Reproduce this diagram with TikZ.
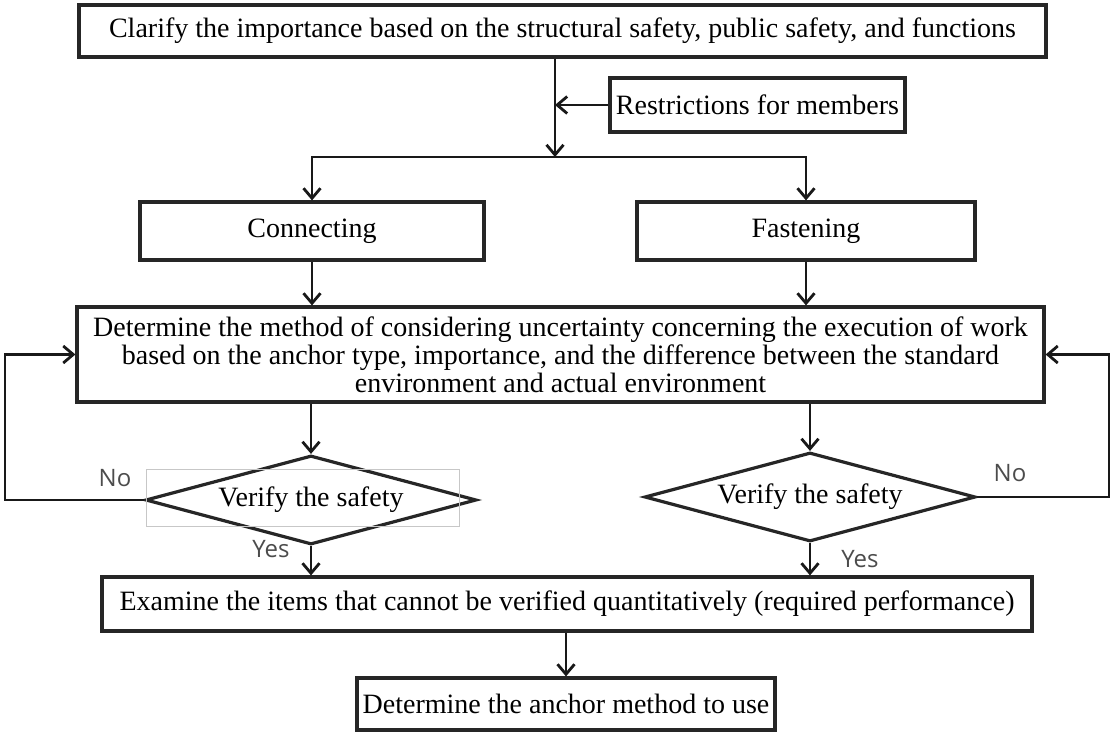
\documentclass[tikz,border=0pt]{standalone}
\usepackage{fontspec}
\setmainfont{Liberation Serif}
\newfontfamily\labelfont{Open Sans}
\usetikzlibrary{arrows.meta,shapes.geometric}
\begin{document}
\begin{tikzpicture}[x=1pt,y=-1pt,
  box/.style={draw=black!85, line width=3.2pt, fill=white, inner sep=0pt,
    font=\fontsize{28}{28}\selectfont, align=center},
  dia/.style={diamond, aspect=3.7, draw=black!85, line width=3.2pt, inner sep=0pt,
    minimum width=331pt, minimum height=89pt, font=\fontsize{28}{28}\selectfont},
  conn/.style={draw=black!90, line width=2.8pt, -{Straight Barb[length=10pt,width=17pt]}},
  lbl/.style={font=\labelfont\fontsize{24}{24}\selectfont, text=black!70, inner sep=0pt}
]
\useasboundingbox (0,0) rectangle (1112,733);

% boxes
\node[box, minimum width=967pt, minimum height=52pt] (top) at (562.5,31)
  {Clarify the importance based on the structural safety, public safety, and functions};
\node[box, minimum width=295pt, minimum height=54pt] (restr) at (757.5,105)
  {Restrictions for members};
\node[box, minimum width=344pt, minimum height=58pt] (conn) at (312,231) {Connecting};
\node[box, minimum width=338pt, minimum height=58pt] (fast) at (806,231) {Fastening};
\node[box, minimum width=967pt, minimum height=95pt] (main) at (560.5,354.5)
  {Determine the method of considering uncertainty concerning the execution of work\\
   based on the anchor type, importance, and the difference between the standard\\
   environment and actual environment};
\node[dia] (dL) at (311,500) {Verify the safety};
\node[dia] (dR) at (810,497) {Verify the safety};
\draw[black!22, line width=0.8pt] (146,469) rectangle (459,526);
\node[box, minimum width=930pt, minimum height=54pt] (exam) at (567,604)
  {Examine the items that cannot be verified quantitatively (required performance)};
\node[box, minimum width=418pt, minimum height=52pt] (final) at (566,704)
  {Determine the anchor method to use};

% helper coordinates
\coordinate (split) at (555,157);
\coordinate (lx) at (5,0);
\coordinate (rx) at (1109,0);

% connectors
\draw[conn] (top.south -| split) -- (split);
\draw[conn] (restr.west) -- (restr.west -| split);
\draw[conn] (split) -| (conn.north);
\draw[conn] (split) -| (fast.north);
\draw[conn] (conn.south) -- (conn.south |- main.north);
\draw[conn] (fast.south) -- (fast.south |- main.north);
\draw[conn] (main.south -| dL.north) -- (dL.north);
\draw[conn] (main.south -| dR.north) -- (dR.north);
\draw[conn] (dL.west) -- (dL.west -| lx) |- (main.west);
\draw[conn] (dR.east) -- (dR.east -| rx) |- (main.east);
\draw[conn] (dL.south) -- (dL.south |- exam.north);
\draw[conn] (dR.south) -- (dR.south |- exam.north);
\draw[conn] (exam.south -| final.north) -- (final.north);

% labels
\node[lbl] (noL) at (115,478) {No};
\node[lbl] (noR) at (1010,473) {No};
\node[lbl] (yesL) at (271,549) {Yes};
\node[lbl] (yesR) at (860,559) {Yes};
\end{tikzpicture}
\end{document}
